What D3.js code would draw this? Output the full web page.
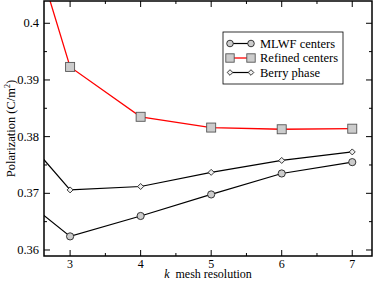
<!DOCTYPE html>
<html><head><meta charset="utf-8">
<script src="https://cdn.jsdelivr.net/npm/d3@7"></script>
<style>body{margin:0;background:#fff}svg{display:block}</style>
</head><body><svg id="c" width="374" height="281"></svg>
<script>
const kValues = [2, 3, 4, 5, 6, 7];
const mlwf = [0.3724, 0.3624, 0.3660, 0.3698, 0.3735, 0.3755];
const refined = [0.4333, 0.3923, 0.3835, 0.3816, 0.3813, 0.3814];
const berry = [0.3850, 0.3706, 0.3712, 0.3737, 0.3758, 0.3773];
const xTicks = [3, 4, 5, 6, 7];
const yTicks = [0.36, 0.37, 0.38, 0.39, 0.40];
const yTickLabels = ["0.36", "0.37", "0.38", "0.39", "0.4"];
const seriesNames = ["MLWF centers", "Refined centers", "Berry phase"];

const FONT = "Liberation Serif";
const svg = d3.select("#c");
const L = 44, R = 372, T = 1, B = 256;
const x = d3.scaleLinear().domain([2.63, 7.28]).range([L, R]);
const y = d3.scaleLinear().domain([0.35894, 0.40393]).range([B, T]);

svg.append("defs").append("clipPath").attr("id","clip").append("rect")
  .attr("x",L).attr("y",T).attr("width",R-L).attr("height",B-T);

const g = svg.append("g");
const xMinor = d3.range(2.5, 7.6, 0.5).filter(v => v > 2.63 && v < 7.28);
const yMinor = d3.range(0.355, 0.405, 0.005).filter(v => v > 0.35894 && v < 0.40393);
function tickLines(vals, major){
  const len = major ? 6 : 3;
  vals.forEach(v => {
    g.append("line").attr("x1",x(v)).attr("x2",x(v)).attr("y1",B).attr("y2",B-len).attr("stroke","#000");
    g.append("line").attr("x1",x(v)).attr("x2",x(v)).attr("y1",T).attr("y2",T+len).attr("stroke","#000");
  });
}
function tickLinesY(vals, major){
  const len = major ? 6 : 3;
  vals.forEach(v => {
    g.append("line").attr("y1",y(v)).attr("y2",y(v)).attr("x1",L).attr("x2",L+len).attr("stroke","#000");
    g.append("line").attr("y1",y(v)).attr("y2",y(v)).attr("x1",R).attr("x2",R-len).attr("stroke","#000");
  });
}
tickLines(xMinor.filter(v => !xTicks.includes(v)), false);
tickLines(xTicks, true);
tickLinesY(yMinor.filter(v => !yTicks.some(t => Math.abs(t-v)<1e-9)), false);
tickLinesY(yTicks, true);

function txt(sel){ return sel.style("font-family", FONT); }
xTicks.forEach(v => txt(g.append("text")).attr("x",x(v)).attr("y",B+12).attr("text-anchor","middle").style("font-size","12px").text(v));
yTicks.forEach((v,i) => txt(g.append("text")).attr("x",L-5).attr("y",y(v)+4).attr("text-anchor","end").style("font-size","12.5px").text(yTickLabels[i]));

const plot = svg.append("g").attr("clip-path","url(#clip)");
const line = d3.line().x((d,i)=>x(kValues[i])).y(d=>y(d));
plot.append("path").datum(mlwf).attr("d",line).attr("fill","none").attr("stroke","#000").attr("stroke-width",1.2);
plot.append("path").datum(berry).attr("d",line).attr("fill","none").attr("stroke","#000").attr("stroke-width",1.2);
plot.append("path").datum(refined).attr("d",line).attr("fill","none").attr("stroke","#f00").attr("stroke-width",1.3);

const idx = kValues.map((k,i)=>i).filter(i => kValues[i] >= 3);
idx.forEach(i => {
  plot.append("circle").attr("cx",x(kValues[i])).attr("cy",y(mlwf[i])).attr("r",3.6).attr("fill","#ccc").attr("stroke","#222").attr("stroke-width",0.9);
  plot.append("path").attr("transform",`translate(${x(kValues[i])},${y(berry[i])})`).attr("d","M0,-3L3,0L0,3L-3,0Z").attr("fill","#eee").attr("stroke","#222").attr("stroke-width",0.9);
  plot.append("rect").attr("x",x(kValues[i])-4.5).attr("y",y(refined[i])-4.5).attr("width",9).attr("height",9).attr("fill","#ccc").attr("stroke","#555").attr("stroke-width",0.9);
});

svg.append("rect").attr("x",L).attr("y",T).attr("width",R-L).attr("height",B-T).attr("fill","none").attr("stroke","#000").attr("stroke-width",1.5);

const yl = txt(svg.append("text")).attr("transform",`translate(15,${(T+B)/2}) rotate(-90)`).attr("text-anchor","middle").style("font-size","12.5px");
yl.append("tspan").text("Polarization (C/m");
yl.append("tspan").attr("dy",-5).style("font-size","8px").text("2");
yl.append("tspan").attr("dy",5).text(")");
const xl = txt(svg.append("text")).attr("x",208).attr("y",278).attr("text-anchor","middle").style("font-size","12px");
xl.append("tspan").style("font-style","italic").text("k");
xl.append("tspan").text("\u00a0 mesh resolution");

const lg = svg.append("g");
lg.append("rect").attr("x",223).attr("y",32).attr("width",120).attr("height",52).attr("fill","#fff").attr("stroke","#000").attr("stroke-width",0.8);
const ly = [43.5, 58, 72.5];
const x1 = 230, x2 = 251;
lg.append("line").attr("x1",x1).attr("x2",x2).attr("y1",ly[0]).attr("y2",ly[0]).attr("stroke","#000").attr("stroke-width",1.2);
[x1,x2].forEach(xx => lg.append("circle").attr("cx",xx).attr("cy",ly[0]).attr("r",3.3).attr("fill","#ccc").attr("stroke","#222").attr("stroke-width",0.9));
lg.append("line").attr("x1",x1).attr("x2",x2).attr("y1",ly[1]).attr("y2",ly[1]).attr("stroke","#f00").attr("stroke-width",1.3);
[x1,x2].forEach(xx => lg.append("rect").attr("x",xx-4.2).attr("y",ly[1]-4.2).attr("width",8.4).attr("height",8.4).attr("fill","#ccc").attr("stroke","#555").attr("stroke-width",0.9));
lg.append("line").attr("x1",x1).attr("x2",x2).attr("y1",ly[2]).attr("y2",ly[2]).attr("stroke","#000").attr("stroke-width",1.2);
[x1,x2].forEach(xx => lg.append("path").attr("transform",`translate(${xx},${ly[2]})`).attr("d","M0,-2.8L2.8,0L0,2.8L-2.8,0Z").attr("fill","#eee").attr("stroke","#222").attr("stroke-width",0.9));
seriesNames.forEach((n,i) => txt(lg.append("text")).attr("x",260).attr("y",ly[i]+4).style("font-size","12.5px").text(n));
</script></body></html>
